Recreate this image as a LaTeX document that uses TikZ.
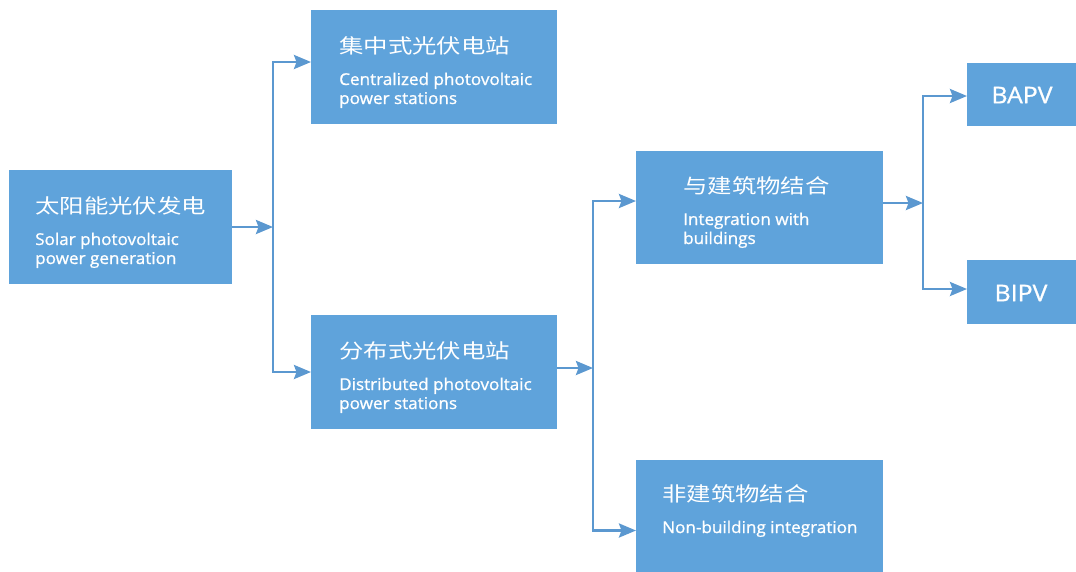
\documentclass[tikz,border=0pt]{standalone}
\usepackage{fontspec}
\usetikzlibrary{arrows.meta}
\newfontfamily\cjkf[FakeStretch=1.22]{Noto Sans CJK SC}
\newfontfamily\enf[FakeStretch=1.05,FakeBold=1.0]{Open Sans}
\newfontfamily\enbig[FakeStretch=1.08,FakeBold=1.0]{Open Sans}
\definecolor{boxblue}{HTML}{5FA3DB}
\definecolor{lineblue}{HTML}{5B98D0}
\tikzset{
  box/.style={fill=boxblue, draw=none, inner sep=0pt, outer sep=0pt, anchor=north west, rectangle},
  zh/.style={anchor=base west, inner sep=0pt, text=white, font=\cjkf\fontsize{20}{22}\selectfont},
  en/.style={anchor=base west, inner sep=0pt, text=white, font=\enf\fontsize{16.3}{20}\selectfont},
  big/.style={anchor=center, inner sep=0pt, text=white, font=\enbig\fontsize{23}{24}\selectfont},
  conn/.style={draw=lineblue, line width=2.6pt, line join=miter},
  arr/.style={conn, -{Stealth[length=17pt,width=14pt,inset=2.5pt]}},
}
\begin{document}
\begin{tikzpicture}[x=1pt,y=-1pt]
\useasboundingbox (0,0) rectangle (1076,571);
\clip (0,0) rectangle (1076,571);
\fill[white] (0,0) rectangle (1076,571);
% boxes
\node[box, minimum width=223pt, minimum height=114pt] (b1) at (9,170) {};
\node[box, minimum width=246pt, minimum height=114pt] (b2) at (311,10) {};
\node[box, minimum width=246pt, minimum height=114pt] (b3) at (311,315) {};
\node[box, minimum width=247pt, minimum height=113pt] (b4) at (636,151) {};
\node[box, minimum width=247pt, minimum height=125pt] (b5) at (636,460) {};
\node[box, minimum width=125pt, minimum height=63pt] (b6) at (967,63) {};
\node[box, minimum width=125pt, minimum height=64pt] (b7) at (967,260) {};
% texts
\node[zh] (t1a) at (35,213) {太阳能光伏发电};
\node[en] (t1b) at (35,245) {Solar photovoltaic};
\node[en] (t1c) at (35,264) {power generation};
\node[zh] (t2a) at (339,53) {集中式光伏电站};
\node[en] (t2b) at (339,85) {Centralized photovoltaic};
\node[en] (t2c) at (339,104) {power stations};
\node[zh] (t3a) at (339,358) {分布式光伏电站};
\node[en] (t3b) at (339,390) {Distributed photovoltaic};
\node[en] (t3c) at (339,409) {power stations};
\node[zh] (t4a) at (683,193) {与建筑物结合};
\node[en] (t4b) at (683,225) {Integration with};
\node[en] (t4c) at (683,244) {buildings};
\node[zh] (t5a) at (662,501) {非建筑物结合};
\node[en] (t5b) at (662,533) {Non-building integration};
\node[big] (t6) at (1022,95) {BAPV};
\node[big] (t7) at (1021,293) {BIPV};
% junctions
\coordinate (j1) at (273,227);
\coordinate (j2) at (593,368);
\coordinate (j3) at (923,203);
% connectors
\draw[arr] (b1.east) -- (j1);
\draw[arr] (j1) |- ([yshift=5pt]b2.west);
\draw[arr] (j1) |- (b3.west);
\draw[arr] ([yshift=4pt]b3.east) -- (j2);
\draw[arr] (j2) |- ([yshift=6.5pt]b4.west);
\draw[arr] (j2) |- ([yshift=-8pt]b5.west);
\draw[arr] ([yshift=4.5pt]b4.east) -- (j3);
\draw[arr] (j3) |- ([yshift=-1.5pt]b6.west);
\draw[arr] (j3) |- ([yshift=3pt]b7.west);
\end{tikzpicture}
\end{document}
